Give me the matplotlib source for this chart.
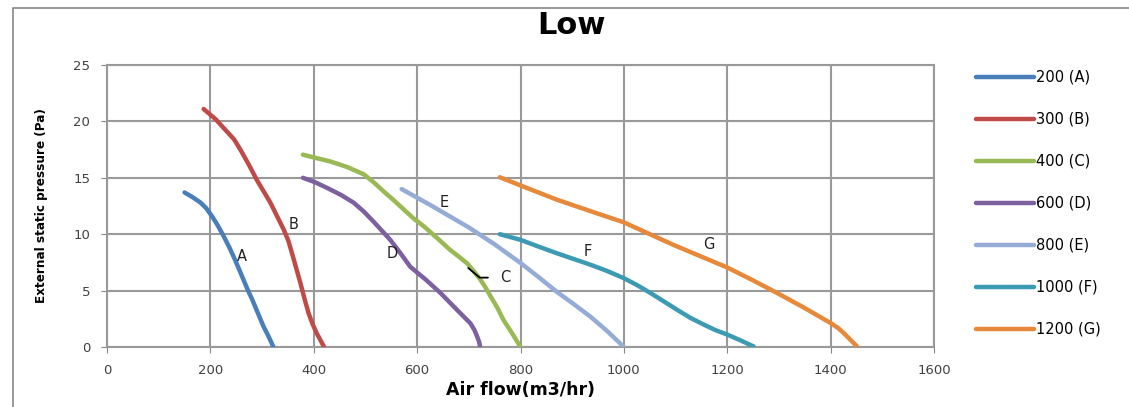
import matplotlib
matplotlib.use("Agg")
import matplotlib.pyplot as plt
from matplotlib.patches import Rectangle
from matplotlib import font_manager

# ---- data ----
series_names = ["200 (A)", "300 (B)", "400 (C)", "600 (D)", "800 (E)", "1000 (F)", "1200 (G)"]
curve_letters = ["A", "B", "C", "D", "E", "F", "G"]

a_flow = [150, 165, 181, 192, 203, 214, 226, 237, 248, 261, 271, 281, 292, 303, 313, 322]
a_pres = [13.7, 13.3, 12.8, 12.3, 11.6, 10.8, 9.8, 8.8, 7.7, 6.3, 5.2, 4.2, 3.0, 1.8, 0.9, 0.0]
b_flow = [187, 210, 232, 246, 258, 274, 290, 303, 316, 329, 342, 351, 358, 366, 374, 382, 390, 398, 406, 413, 420]
b_pres = [21.1, 20.2, 19.1, 18.4, 17.5, 16.2, 14.8, 13.8, 12.8, 11.6, 10.4, 9.4, 8.3, 7.0, 5.7, 4.3, 3.0, 2.0, 1.2, 0.6, 0.0]
c_flow = [379, 405, 432, 465, 497, 516, 535, 555, 574, 593, 613, 629, 645, 664, 681, 697, 710, 722, 732, 742, 755, 767, 784, 800]
c_pres = [17.05, 16.75, 16.45, 15.95, 15.3, 14.6, 13.8, 13.0, 12.2, 11.4, 10.7, 10.05, 9.4, 8.6, 8.0, 7.4, 6.7, 6.0, 5.3, 4.5, 3.5, 2.4, 1.2, 0.0]
d_flow = [379, 403, 426, 452, 477, 497, 516, 532, 548, 568, 587, 616, 645, 661, 677, 690, 703, 711, 716, 720, 722]
d_pres = [15.0, 14.6, 14.1, 13.5, 12.8, 12.0, 11.1, 10.3, 9.5, 8.3, 7.1, 6.0, 4.8, 4.05, 3.3, 2.7, 2.1, 1.5, 0.94, 0.45, 0.0]
e_flow = [570, 625, 700, 750, 800, 835, 870, 903, 935, 968, 1000]
e_pres = [14.0, 12.6, 10.6, 9.1, 7.45, 6.2, 4.9, 3.8, 2.7, 1.4, 0.0]
f_flow = [760, 800, 835, 871, 903, 935, 967, 1000, 1025, 1051, 1077, 1103, 1128, 1154, 1177, 1200, 1225, 1251]
f_pres = [10.0, 9.5, 8.9, 8.3, 7.8, 7.3, 6.75, 6.1, 5.5, 4.8, 4.05, 3.3, 2.6, 2.0, 1.5, 1.1, 0.6, 0.05]
g_flow = [760, 815, 871, 935, 1000, 1048, 1096, 1148, 1200, 1248, 1296, 1348, 1399, 1414, 1425, 1438, 1451]
g_pres = [15.05, 14.05, 13.05, 12.05, 11.05, 10.05, 9.05, 8.05, 7.05, 5.95, 4.8, 3.5, 2.15, 1.7, 1.25, 0.65, 0.05]

flows = [a_flow, b_flow, c_flow, d_flow, e_flow, f_flow, g_flow]
pressures = [a_pres, b_pres, c_pres, d_pres, e_pres, f_pres, g_pres]

# label positions for curve letters (data coords)
label_x = [261, 360, 771, 551, 653, 930, 1164]
label_y = [8.0, 10.9, 6.15, 8.3, 12.8, 8.5, 9.1]
c_leader_tip = (699, 7.0)

x_ticks = [0, 200, 400, 600, 800, 1000, 1200, 1400, 1600]
y_ticks = [0, 5, 10, 15, 20, 25]

colors = ["#4A7EBB", "#BE4B48", "#98B954", "#7D60A0", "#95ADD6", "#3C9BB3", "#E6893A"]

plt.rcParams['font.family'] = ['DejaVu Sans']

# pick a condensed font for the y label if one is installed
names = {f.name for f in font_manager.fontManager.ttflist}
cond = [f for f in font_manager.fontManager.ttflist
        if f.name == 'DejaVu Sans' and 'ondensed' in str(f.stretch) + f.fname and f.weight in (700, 'bold')]
if 'Liberation Sans Narrow' in names:
    ylab_kw = dict(family='Liberation Sans Narrow', fontsize=11)
elif cond:
    ylab_kw = dict(fname=None) if False else dict(fontproperties=font_manager.FontProperties(fname=cond[0].fname, size=9.6))
else:
    ylab_kw = dict(family='DejaVu Sans', fontsize=8.6)

fig = plt.figure(figsize=(11.29, 4.07), dpi=100)
ax = fig.add_axes([107/1129, 1-347/407, (934-107)/1129, (347-65)/407])

for fl, pr, c, n in zip(flows, pressures, colors, series_names):
    ax.plot(fl, pr, color=c, lw=3.2, label=n, solid_capstyle='round', solid_joinstyle='round', zorder=3)

for lx, ly, t in zip(label_x, label_y, curve_letters):
    if t == "C":
        continue
    ax.text(lx, ly, t, ha='center', va='center', fontsize=10.5, color='#222222', zorder=4)

ci = curve_letters.index("C")
ax.annotate("C", xy=c_leader_tip, xytext=(label_x[ci], label_y[ci]), ha='center', va='center',
            fontsize=10.5, color='#222222',
            arrowprops=dict(arrowstyle='-', color='black', lw=1.3, shrinkA=7, shrinkB=0,
                            connectionstyle='angle,angleA=0,angleB=-40,rad=0'))

ax.set_xlim(0, 1600)
ax.set_ylim(0, 25)
ax.set_xticks(x_ticks)
ax.set_yticks(y_ticks)
ax.tick_params(labelsize=9.5, length=4, color='#888888', labelcolor='#404040', pad=8)
ax.grid(True, color='#999999', lw=1.5, zorder=0)
for s in ax.spines.values():
    s.set_color('#999999')
    s.set_linewidth(1.5)

fig.text(571/1129, 1-26/407, "Low", fontsize=22, fontweight='bold', ha='center', va='center')
ax.set_xlabel("Air flow(m3/hr)", fontsize=12.5, fontweight='bold', labelpad=3)
ax.set_ylabel("External static pressure (Pa)", fontweight='bold', labelpad=18, **ylab_kw)

leg = ax.legend(loc='upper left', bbox_to_anchor=(970/1129, 1-64/407), bbox_transform=fig.transFigure,
                frameon=False, fontsize=10.5, handlelength=4.0, handletextpad=0.1, labelspacing=1.85,
                borderaxespad=0)
for line in leg.get_lines():
    line.set_linewidth(3.2)

fig.patches.append(Rectangle((13/1129, -0.1), 1.2, 1-8/407+0.1, transform=fig.transFigure,
                             fill=False, edgecolor='#888888', lw=1.2))

fig.savefig("out.png", dpi=100)
